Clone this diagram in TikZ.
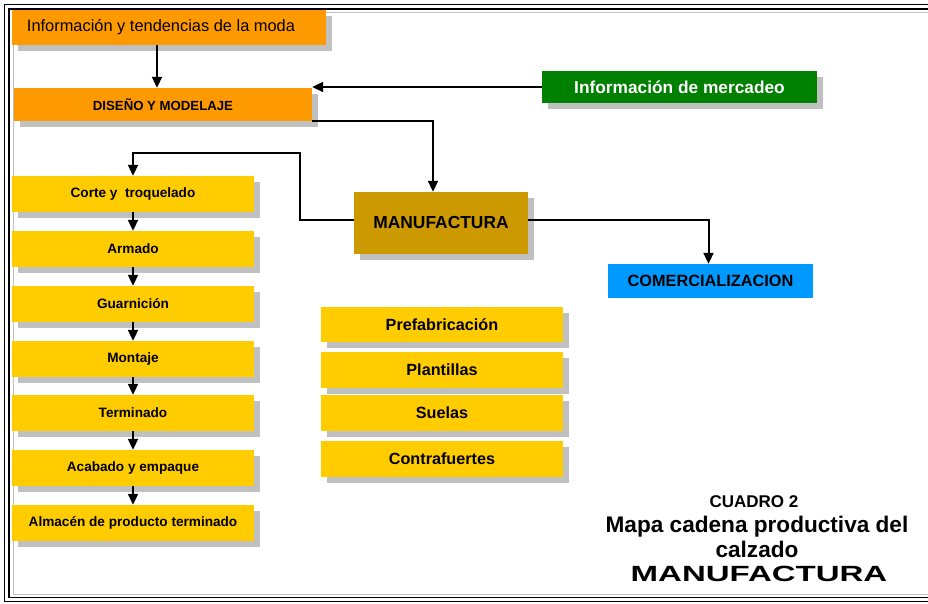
\documentclass[tikz,border=0pt]{standalone}
\usepackage{fontspec}
\setmainfont{Liberation Sans}
\newfontfamily\widefont[FakeStretch=1.5]{Liberation Sans}
\usetikzlibrary{calc,arrows.meta,shadows}
\definecolor{czorange}{RGB}{255,153,0}
\definecolor{czgreen}{RGB}{0,128,0}
\definecolor{czbrown}{RGB}{204,153,0}
\definecolor{czblue}{RGB}{0,153,255}
\definecolor{czyellow}{RGB}{255,204,0}
\definecolor{czshadow}{RGB}{192,192,192}

\begin{document}
\begin{tikzpicture}[x=1pt,y=-1pt,
  boxshadow/.style={general shadow={fill=czshadow, shadow xshift=6pt, shadow yshift=-6pt}},
  stage/.style={boxshadow, fill=czyellow, minimum width=242pt, minimum height=36pt,
    inner sep=0pt, font=\fontsize{13.6}{15}\selectfont\bfseries},
  part/.style={stage, font=\fontsize{16.2}{18}\selectfont\bfseries},
  caption/.style={anchor=base, inner sep=0pt, font=\fontsize{#1}{#1}\selectfont\bfseries},
  link/.style={line width=2pt, -{Triangle[length=11pt,width=10pt]}}]
\useasboundingbox (0,0) rectangle (928,604);
\clip (0,0) rectangle (928,604);

% Page frame
\draw[line width=1.4pt] (4.5,4.5) rectangle (940,601.5);
\draw[line width=1.4pt] (9,9) rectangle (940,597.5);
\draw[czshadow, line width=1pt] (13,13) rectangle (940,594);

% Top boxes
\node[boxshadow, fill=czorange, minimum width=314pt, minimum height=35pt, inner sep=0pt,
  font=\fontsize{16.4}{18}\selectfont] (moda) at (169,27.5) {\hspace*{-16pt}Información y tendencias de la moda};
\node[boxshadow, fill=czorange, minimum width=298pt, minimum height=33pt, inner sep=0pt,
  font=\fontsize{13.2}{15}\selectfont\bfseries] (diseno) at (163,104.5) {DISEÑO Y MODELAJE};
\node[boxshadow, fill=czgreen, text=white, minimum width=275pt, minimum height=32pt, inner sep=0pt,
  font=\fontsize{17.3}{19}\selectfont\bfseries] (mercadeo) at (679.5,87) {Información de mercadeo};
\node[boxshadow, fill=czbrown, minimum width=174pt, minimum height=62pt, inner sep=0pt,
  font=\fontsize{17.4}{19}\selectfont\bfseries] (manuf) at (441,223) {\raisebox{-5pt}{MANUFACTURA}};
\node[fill=czblue, minimum width=205pt, minimum height=34pt, inner sep=0pt,
  font=\fontsize{16.3}{18}\selectfont\bfseries] (comer) at (710.5,281) {COMERCIALIZACION};

% Process stages
\node[stage] (s1) at (133,194) {Corte y \ troquelado};
\node[stage] (s2) at (133,249) {Armado};
\node[stage] (s3) at (133,304) {Guarnición};
\node[stage] (s4) at (133,359) {Montaje};
\node[stage] (s5) at (133,413) {Terminado};
\node[stage] (s6) at (133,468) {Acabado y empaque};
\node[stage] (s7) at (133,523) {Almacén de producto terminado};

\foreach \a/\b in {s1/s2,s2/s3,s3/s4,s4/s5,s5/s6,s6/s7}
  \draw[link] (\a.south) -- (\b.north);

% Prefabricated parts
\node[part, minimum height=35pt] (p1) at (442,324.5) {Prefabricación};
\node[part] (p2) at (442,370) {Plantillas};
\node[part] (p3) at (442,413) {Suelas};
\node[part] (p4) at (442,459) {Contrafuertes};

% Connectors
\draw[link] ([xshift=-12pt]moda.south) -- ([xshift=-6pt]diseno.north);
\draw[link] (mercadeo.west) -- (mercadeo.west -| diseno.east);
\draw[link] (diseno.south east) -| ([xshift=-8pt]manuf.north);
\draw[link] ([yshift=3pt]manuf.west) -- ++(-54,0) -- ++(0,-67) -| (s1.north);
\draw[link] ([yshift=3pt]manuf.east) -| ([xshift=-2pt]comer.north);

% Caption
\node[caption=17] (cap1) at (754,507) {CUADRO 2};
\node[caption=22.6] (cap2) at (757,532) {Mapa cadena productiva del};
\node[caption=22.6] (cap3) at (757,557) {calzado};
\node[caption=22, font=\fontsize{22}{22}\selectfont\widefont\bfseries] (cap4) at (759,581) {MANUFACTURA};
\end{tikzpicture}
\end{document}
